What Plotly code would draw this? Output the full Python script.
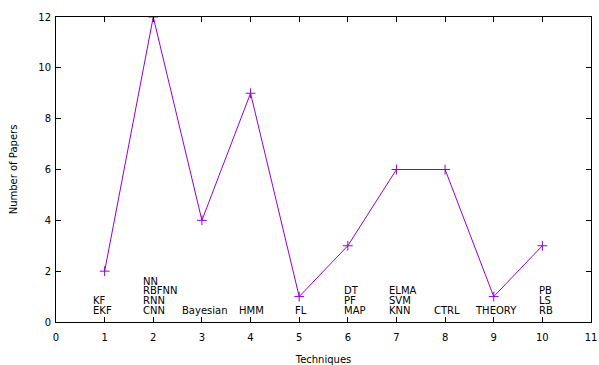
import plotly.graph_objects as go

techniques = [1, 2, 3, 4, 5, 6, 7, 8, 9, 10]
papers = [2, 12, 4, 9, 1, 3, 6, 6, 1, 3]
# stacked labels per technique, bottom line first
label_groups = [
    ["EKF", "KF"],
    ["CNN", "RNN", "RBFNN", "NN"],
    ["Bayesian"],
    ["HMM"],
    ["FL"],
    ["MAP", "PF", "DT"],
    ["KNN", "SVM", "ELMA"],
    ["CTRL"],
    ["THEORY"],
    ["RB", "LS", "PB"],
]
# left edge of each label stack (data x)
label_left = [0.75, 1.77, 2.57, 3.75, 4.9, 5.91, 6.82, 7.76, 8.6, 9.91]
x_ticks = list(range(0, 12))
y_ticks = list(range(0, 13, 2))

FONT = "DejaVu Sans"
COLOR = "#9400D3"

fig = go.Figure()
fig.add_trace(go.Scatter(
    x=techniques, y=papers, mode="lines+markers",
    line=dict(color=COLOR, width=1),
    marker=dict(symbol="cross-thin", size=7, line=dict(color=COLOR, width=1)),
    showlegend=False,
))

annotations = []
base_y = 0.47
step = 0.38
for lx, group in zip(label_left, label_groups):
    for i, txt in enumerate(group):
        annotations.append(dict(
            x=lx, y=base_y + i * step, xref="x", yref="y", text=txt,
            showarrow=False, xanchor="left", yanchor="middle", borderpad=0,
            font=dict(family=FONT, size=10, color="black"),
        ))
fig.update_layout(annotations=annotations)

fig.update_layout(
    width=599, height=365,
    margin=dict(l=56, r=8, t=17, b=43),
    paper_bgcolor="white", plot_bgcolor="white",
    font=dict(family=FONT, size=10, color="black"),
    xaxis=dict(
        range=[0, 11], tickmode="array", tickvals=x_ticks,
        ticks="inside", ticklen=5, tickcolor="black", ticklabelstandoff=6,
        showline=True, linecolor="black", linewidth=1, mirror="allticks",
        showgrid=False, zeroline=False, automargin=False,
        title=dict(text="Techniques", font=dict(family=FONT, size=10), standoff=13),
    ),
    yaxis=dict(
        range=[0, 12], tickmode="array", tickvals=y_ticks,
        ticks="inside", ticklen=5, tickcolor="black", ticklabelstandoff=2,
        showline=True, linecolor="black", linewidth=1, mirror="allticks",
        showgrid=False, zeroline=False, automargin=False,
        title=dict(text="Number of Papers", font=dict(family=FONT, size=10), standoff=18),
    ),
)

fig.write_html(
    "out.html",
    config={"displayModeBar": False},
    post_script="document.body.style.margin='0';document.body.style.overflow='hidden';",
)
